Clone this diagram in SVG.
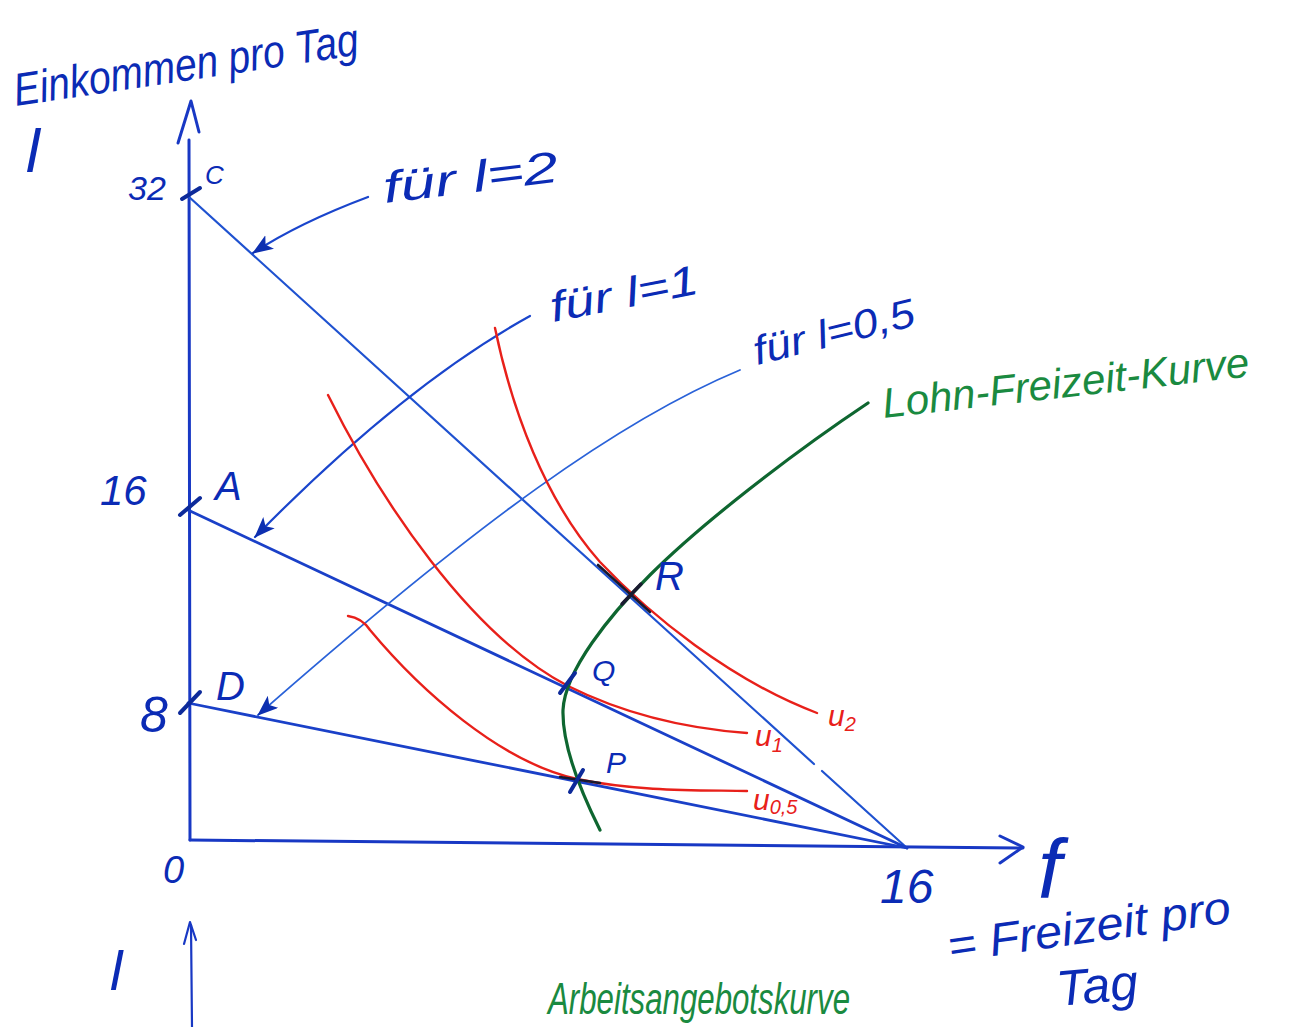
<svg xmlns="http://www.w3.org/2000/svg" width="1292" height="1027" viewBox="0 0 1292 1027">
<defs>
<style>
.ax{fill:none;stroke:#1838c4;stroke-width:3;stroke-linecap:round;stroke-linejoin:round}
.bl{fill:none;stroke:#1f52d0;stroke-width:2.2;stroke-linecap:round}
.bl2{fill:none;stroke:#1a40c8;stroke-width:2.8;stroke-linecap:round}
.thin{fill:none;stroke:#2a62d8;stroke-width:1.8;stroke-linecap:round}
.ptr{fill:none;stroke:#1a45cc;stroke-width:2.2;stroke-linecap:round}
.red{fill:none;stroke:#e8201a;stroke-width:2.4;stroke-linecap:round}
.grn{fill:none;stroke:#0e6630;stroke-width:3.2;stroke-linecap:round}
.mk{fill:none;stroke:#0d2a9a;stroke-width:4;stroke-linecap:round}
.dk{fill:none;stroke:#1a1a30;stroke-width:2.6;stroke-linecap:round}
.t{font-family:"Liberation Sans",Arial,sans-serif;font-style:italic;fill:#0b2bb5}
.tg{font-family:"Liberation Sans",Arial,sans-serif;font-style:italic;fill:#1a8a40}
.tr{font-family:"Liberation Sans",Arial,sans-serif;font-style:italic;fill:#e8201a}
</style>
<marker id="ah" markerUnits="userSpaceOnUse" markerWidth="24" markerHeight="18" refX="20" refY="8" orient="auto">
<path d="M0,0 L21,8 L0,16 L5,8 z" fill="#0d2fb0"/>
</marker>
</defs>

<g id="axes">
<path class="ax" d="M190,840 L189,140"/>
<path class="ax" d="M178,143 L191,101 L199,132"/>
<path class="ax" d="M190,840 L1023,848"/>
<path class="ax" d="M1000,836 L1023,847 L1000,863"/>
<path class="ax" d="M192,1027 L191,925" style="stroke-width:2.2"/>
<path class="ax" d="M184,944 L190,922 L196,940" style="stroke-width:2.2"/>
</g>

<g id="budget-lines">
<path class="bl" d="M188,196 L814,764 M822,771 L907,848"/>
<path class="bl2" d="M188,510 L907,848"/>
<path class="bl2" d="M188,703 L907,848"/>
<path class="mk" d="M182,199 L200,188"/>
<path class="mk" d="M180,515 L200,498"/>
<path class="mk" d="M180,713 L200,692"/>
</g>

<g id="connectors">
<path class="ptr" d="M368,197 C320,215 285,232 253,253" marker-end="url(#ah)"/>
<path class="ptr" d="M530,316 C450,360 360,430 255,537" marker-end="url(#ah)"/>
<path class="thin" d="M740,370 C620,420 480,520 258,715" marker-end="url(#ah)"/>
</g>

<g id="indifference-curves">
<path id="u2" class="red" d="M495,328 C512,410 545,500 600,562 C650,615 730,680 817,713"/>
<path id="u1" class="red" d="M328,395 C380,500 470,635 568,686 C620,712 680,728 747,733"/>
<path id="u05" class="red" d="M348,616 Q362,618 370,630 C420,690 500,762 577,779 C640,792 700,790 747,791"/>
</g>

<g id="lohn-freizeit-kurve">
<path class="grn" d="M868,403 C790,455 700,525 650,575 C610,615 565,670 563,710 C562,745 580,790 600,830"/>
</g>

<g id="points">
<g id="R"><path class="dk" d="M598,565 L650,612"/><path class="dk" d="M622,604 L641,584" style="stroke-width:3.5"/><text class="t" x="655" y="590" font-size="40">R</text></g>
<g id="Q"><path class="mk" d="M560,693 L575,673"/><text class="t" x="592" y="681" font-size="30">Q</text></g>
<g id="P"><path class="dk" d="M560,777 L600,783"/><path class="mk" d="M570,792 L583,770"/><text class="t" x="606" y="773" font-size="30">P</text></g>
</g>

<g id="labels">
<text class="t" transform="translate(16,106) rotate(-8.5)" font-size="46" textLength="348" lengthAdjust="spacingAndGlyphs">Einkommen pro Tag</text>
<text class="t" x="26" y="172" font-size="62">l</text>
<text class="t" x="128" y="200" font-size="34">32</text>
<text class="t" x="205" y="184" font-size="26">C</text>
<text class="t" x="100" y="505" font-size="42">16</text>
<text class="t" x="215" y="500" font-size="40">A</text>
<text class="t" x="140" y="732" font-size="50">8</text>
<text class="t" x="216" y="700" font-size="40">D</text>
<text class="t" x="163" y="883" font-size="38">0</text>
<text class="t" x="880" y="903" font-size="48">16</text>
<text class="t" x="1038" y="898" font-size="84">f</text>
<text class="t" transform="translate(950,962) rotate(-8)" font-size="46" textLength="285" lengthAdjust="spacingAndGlyphs">= Freizeit pro</text>
<text class="t" transform="translate(1058,1006) rotate(-5)" font-size="50">Tag</text>
<text class="t" x="110" y="990" font-size="56">l</text>
<text class="t" transform="translate(385,203) rotate(-7)" font-size="44" textLength="176" lengthAdjust="spacingAndGlyphs">für l=2</text>
<text class="t" transform="translate(553,322) rotate(-11)" font-size="42" textLength="150" lengthAdjust="spacingAndGlyphs">für l=1</text>
<text class="t" transform="translate(757,365) rotate(-14)" font-size="40" textLength="165" lengthAdjust="spacingAndGlyphs">für l=0,5</text>
<text class="tg" transform="translate(884,418) rotate(-6.5)" font-size="42">Lohn-Freizeit-Kurve</text>
<text class="tg" x="548" y="1014" font-size="44" textLength="302" lengthAdjust="spacingAndGlyphs">Arbeitsangebotskurve</text>
<text class="tr" x="828" y="726" font-size="30">u<tspan font-size="20" dy="5">2</tspan></text>
<text class="tr" x="755" y="746" font-size="30">u<tspan font-size="20" dy="6">1</tspan></text>
<text class="tr" x="753" y="810" font-size="30">u<tspan font-size="20" dy="4">0,5</tspan></text>
</g>
</svg>
